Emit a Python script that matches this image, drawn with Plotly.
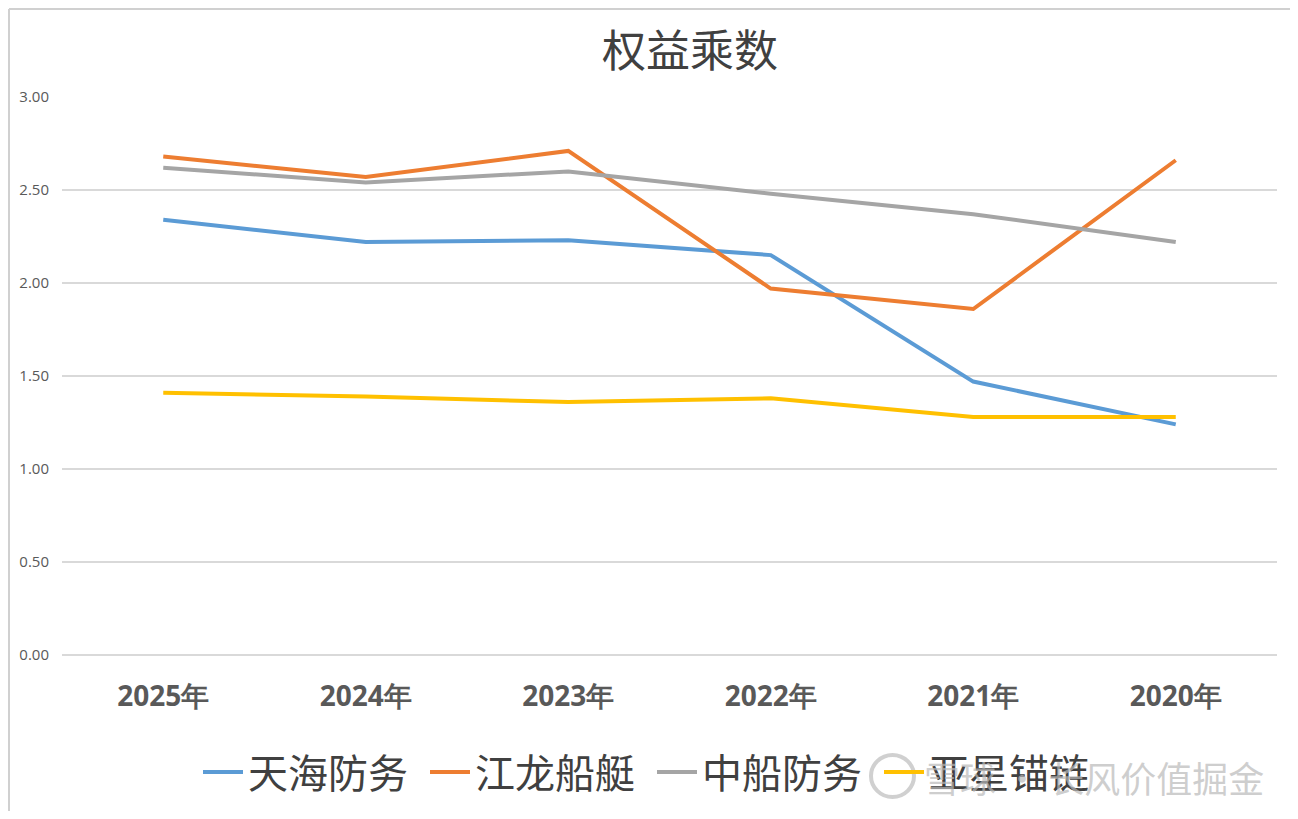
import plotly.graph_objects as go

years = ["2025年", "2024年", "2023年", "2022年", "2021年", "2020年"]
tianhai = [2.34, 2.22, 2.23, 2.15, 1.47, 1.24]
jianglong = [2.68, 2.57, 2.71, 1.97, 1.86, 2.66]
zhongchuan = [2.62, 2.54, 2.60, 2.48, 2.37, 2.22]
yaxing = [1.41, 1.39, 1.36, 1.38, 1.28, 1.28]

series = [
    ("天海防务", tianhai, "#5B9BD5"),
    ("江龙船艇", jianglong, "#ED7D31"),
    ("中船防务", zhongchuan, "#A5A5A5"),
    ("亚星锚链", yaxing, "#FFC000"),
]

OFF = 8  # page body margin
W, H = 1298 - 2 * OFF, 819 - 2 * OFF
# plot area in screen pixels: x 62..1277, y 97..655
SL, SR, ST, SB = 62, 1277, 97, 655
L, T = SL - OFF, ST - OFF
R = W - (SR - OFF)
B = H - (SB - OFF)
pw, ph = W - L - R, H - T - B

def px(x):
    return (x - SL) / pw

def py(y):
    return (SB - y) / ph

def cx(x):
    return (x - OFF) / W

def cy(y):
    return 1 - (y - OFF) / H

fig = go.Figure()
for name, vals, color in series:
    fig.add_trace(go.Scatter(x=years, y=vals, name=name, mode="lines",
                             line=dict(color=color, width=4)))

font_cjk = "Noto Sans CJK SC, Noto Sans, sans-serif"
fig.update_layout(
    width=W, height=H,
    margin=dict(l=L, r=R, t=T, b=B, autoexpand=False),
    paper_bgcolor="white", plot_bgcolor="white",
    title=dict(text="权益乘数", x=cx(690), xanchor="center", y=cy(52), yanchor="middle",
               font=dict(family=font_cjk, size=44, color="#404040")),
    xaxis=dict(range=[-0.5, 5.5], showgrid=False, showline=False, zeroline=False, ticks="",
               automargin=False,
               tickfont=dict(family="Open Sans, sans-serif", size=28, color="#595959", weight="bold"),
               ticklabelstandoff=22),
    yaxis=dict(range=[0, 3], dtick=0.5, tickformat=".2f", showgrid=True,
               gridcolor="#D9D9D9", gridwidth=1.5,
               zeroline=True, zerolinecolor="#D9D9D9", zerolinewidth=1.5,
               showline=False, ticks="", automargin=False,
               tickfont=dict(family="Open Sans, sans-serif", size=15, color="#595959"),
               ticklabelstandoff=12),
    legend=dict(orientation="h", xref="container", yref="container",
                x=cx(198), xanchor="left", y=cy(772), yanchor="middle",
                font=dict(family=font_cjk, size=40, color="#404040"),
                itemwidth=40, entrywidth=172, tracegroupgap=0, bgcolor="rgba(0,0,0,0)"),
    showlegend=True,
)

# spreadsheet-like frame edges
fig.add_shape(type="line", xref="paper", yref="paper", x0=px(OFF + 1), x1=px(1298), y0=py(OFF + 1), y1=py(OFF + 1),
              line=dict(color="#D0D0D0", width=2))
fig.add_shape(type="line", xref="paper", yref="paper", x0=px(OFF + 1), x1=px(OFF + 1), y0=py(OFF + 1), y1=py(819),
              line=dict(color="#D0D0D0", width=2))

# watermark
fig.add_shape(type="circle", xref="paper", yref="paper", x0=px(871), x1=px(914), y0=py(797), y1=py(755),
              line=dict(color="rgba(200,200,200,0.85)", width=4))
fig.add_annotation(text="雪球 · 长风价值掘金", xref="paper", yref="paper", x=px(922), xanchor="left",
                   y=py(777), yanchor="middle", showarrow=False,
                   font=dict(family=font_cjk, size=36, color="rgba(185,185,185,0.7)"))

fig.write_html("out.html")
